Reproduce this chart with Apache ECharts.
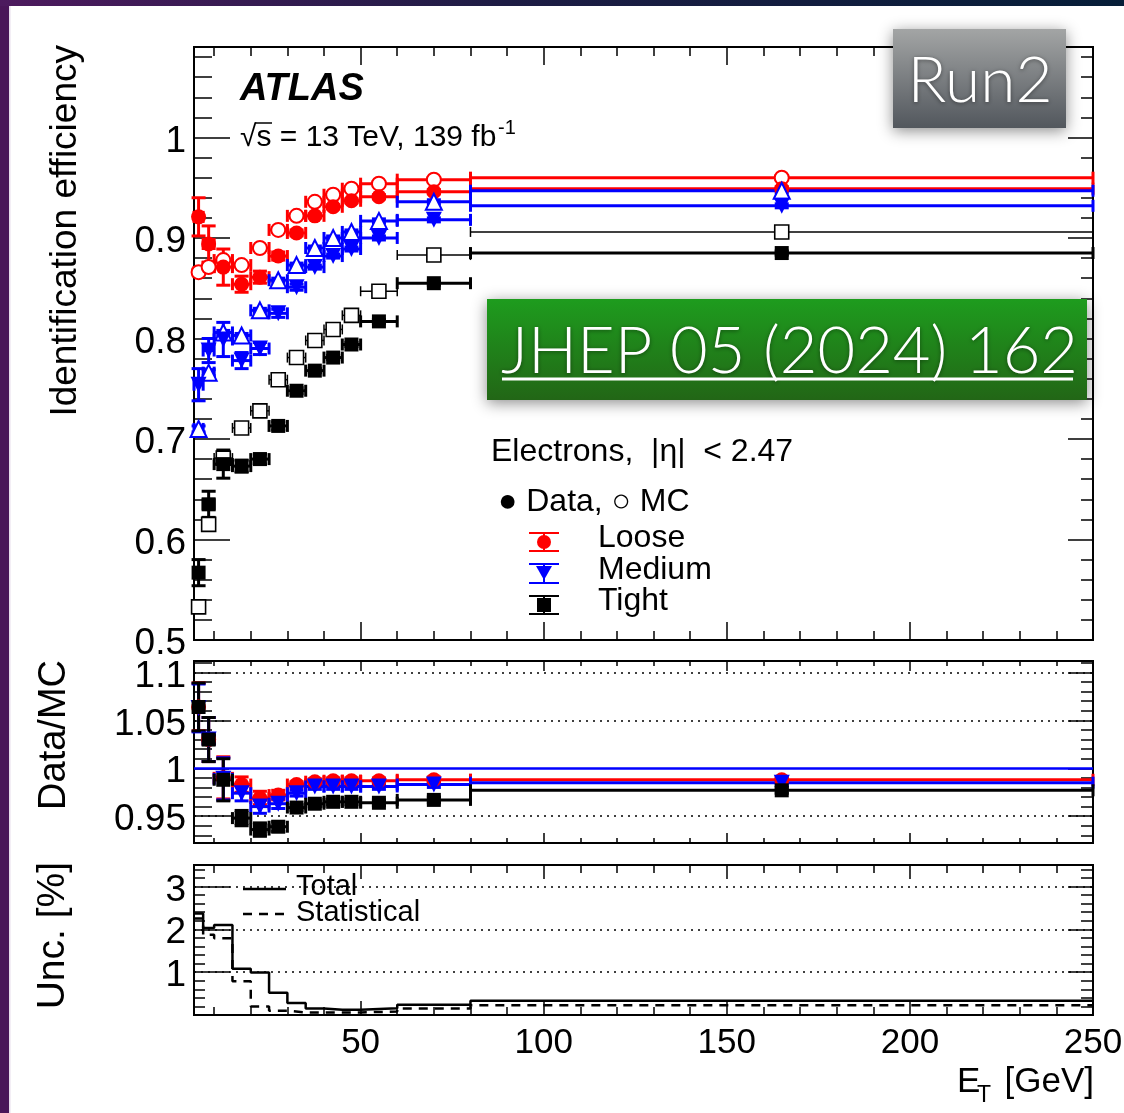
<!DOCTYPE html>
<html>
<head>
<meta charset="utf-8">
<script src="https://cdn.jsdelivr.net/npm/echarts@6/dist/echarts.min.js"></script>
<style>
  html, body { margin: 0; padding: 0; background: #fff; }
  #chart { width: 1124px; height: 1113px; }
</style>
</head>
<body>
<div id="chart"></div>
<script>
// E_T binning [GeV]
const binEdges = [4.5, 7, 10, 15, 20, 25, 30, 35, 40, 45, 50, 60, 80, 250];

// Identification efficiencies (data = filled, MC = open)
const looseData     = [0.921, 0.894, 0.871, 0.854, 0.861, 0.882, 0.905, 0.922, 0.931, 0.937, 0.941, 0.946, 0.949];
const looseDataErr  = [0.019, 0.018, 0.018, 0.008, 0.006, 0.004, 0.003, 0.002, 0.002, 0.002, 0.002, 0.002, 0.002];
const looseMC       = [0.866, 0.871, 0.878, 0.873, 0.890, 0.908, 0.922, 0.936, 0.943, 0.949, 0.954, 0.958, 0.960];
const mediumData    = [0.754, 0.788, 0.799, 0.778, 0.790, 0.825, 0.851, 0.871, 0.882, 0.889, 0.900, 0.918, 0.932];
const mediumDataErr = [0.016, 0.012, 0.017, 0.008, 0.006, 0.004, 0.003, 0.002, 0.002, 0.002, 0.002, 0.002, 0.002];
const mediumMC      = [0.710, 0.766, 0.806, 0.803, 0.828, 0.858, 0.873, 0.890, 0.900, 0.906, 0.917, 0.936, 0.947];
const tightData     = [0.567, 0.635, 0.675, 0.673, 0.680, 0.713, 0.748, 0.768, 0.781, 0.794, 0.817, 0.855, 0.885];
const tightDataErr  = [0.013, 0.013, 0.014, 0.006, 0.005, 0.004, 0.003, 0.002, 0.002, 0.002, 0.002, 0.002, 0.002];
const tightMC       = [0.533, 0.615, 0.681, 0.711, 0.728, 0.759, 0.781, 0.798, 0.809, 0.823, 0.847, 0.883, 0.906];
const mcErr         = [0.003, 0.003, 0.002, 0.002, 0.002, 0.002, 0.002, 0.002, 0.002, 0.002, 0.002, 0.002, 0.002];

// Data/MC scale factors
const looseRatio  = [1.064, 1.030, 0.990, 0.983, 0.969, 0.972, 0.983, 0.986, 0.987, 0.987, 0.987, 0.988, 0.988];
const mediumRatio = [1.063, 1.030, 0.989, 0.974, 0.960, 0.963, 0.974, 0.981, 0.981, 0.981, 0.981, 0.983, 0.985];
const tightRatio  = [1.064, 1.030, 0.988, 0.948, 0.936, 0.939, 0.959, 0.963, 0.965, 0.965, 0.964, 0.967, 0.977];
const ratioErr    = [0.025, 0.023, 0.022, 0.008, 0.007, 0.005, 0.003, 0.003, 0.003, 0.003, 0.003, 0.003, 0.003];

// Relative uncertainty [%]
const uncTotal = [2.37, 2.03, 2.10, 1.08, 0.99, 0.52, 0.28, 0.15, 0.12, 0.12, 0.16, 0.24, 0.33];
const uncStat  = [2.25, 1.87, 1.79, 0.79, 0.20, 0.10, 0.06, 0.06, 0.06, 0.06, 0.08, 0.15, 0.23];

// Tick labels
const xTickLabels     = [50, 100, 150, 200, 250];
const effTickLabels   = [0.5, 0.6, 0.7, 0.8, 0.9, 1];
const ratioTickLabels = [0.95, 1, 1.05, 1.1];
const uncTickLabels   = [1, 2, 3];

const X_MIN = 4.5, X_MAX = 250;
const FONT = '"Liberation Sans", Arial, Helvetica, sans-serif';
const LIGHT = 'Lato, Roboto, ' + FONT;
const RED = '#ff0000', BLUE = '#0000ff', BLACK = '#000000';

const centers = binEdges.slice(0, -1).map((e, i) => (e + binEdges[i + 1]) / 2);

function steps(a, b, step) {
  const out = [];
  for (let k = 0; a + k * step <= b + 1e-9; k++) out.push(+(a + k * step).toFixed(4));
  return out;
}
const fmt = v => String(Number((+v).toFixed(2)));

const xAxes = [], yAxes = [];
function addX(grid, position, ticks, len, labels) {
  xAxes.push({
    type: 'value', gridIndex: grid, position: position, min: X_MIN, max: X_MAX,
    axisLine: { show: true, onZero: false, lineStyle: { color: BLACK, width: 2 } },
    axisTick: { show: true, inside: true, length: len, customValues: ticks, lineStyle: { color: BLACK, width: 1.5 } },
    axisLabel: labels ? { show: true, customValues: labels, formatter: fmt, color: BLACK,
      fontFamily: FONT, fontSize: 35, margin: 11 } : { show: false },
    splitLine: { show: false }
  });
  return xAxes.length - 1;
}
function addY(grid, position, min, max, ticks, len, labels) {
  yAxes.push({
    type: 'value', gridIndex: grid, position: position, min: min, max: max,
    axisLine: { show: true, onZero: false, lineStyle: { color: BLACK, width: 2 } },
    axisTick: { show: true, inside: true, length: len, customValues: ticks, lineStyle: { color: BLACK, width: 1.5 } },
    axisLabel: labels ? { show: true, customValues: labels, formatter: fmt, color: BLACK,
      fontFamily: FONT, fontSize: 37, margin: 8, verticalAlign: 'top', lineHeight: 8 } : { show: false },
    splitLine: { show: false }
  });
  return yAxes.length - 1;
}

// Panel 0: efficiency
const EFF = { min: 0.5, max: 1.09 };
const ex = addX(0, 'bottom', xTickLabels, 18, null);
addX(0, 'bottom', steps(10, 250, 10), 9, null);
addX(0, 'top', xTickLabels, 18, null);
addX(0, 'top', steps(10, 250, 10), 9, null);
const ey = addY(0, 'left', EFF.min, EFF.max, effTickLabels, 36, effTickLabels);
addY(0, 'left', EFF.min, EFF.max, steps(0.5, 1.08, 0.02), 18, null);
addY(0, 'right', EFF.min, EFF.max, effTickLabels, 25, null);
addY(0, 'right', EFF.min, EFF.max, steps(0.5, 1.08, 0.02), 12, null);

// Panel 1: Data/MC
const RAT = { min: 0.922, max: 1.112 };
const rx = addX(1, 'bottom', xTickLabels, 10, null);
addX(1, 'bottom', steps(10, 250, 10), 5, null);
addX(1, 'top', xTickLabels, 10, null);
addX(1, 'top', steps(10, 250, 10), 5, null);
const ry = addY(1, 'left', RAT.min, RAT.max, ratioTickLabels, 35, ratioTickLabels);
addY(1, 'left', RAT.min, RAT.max, steps(0.93, 1.11, 0.01), 18, null);
addY(1, 'right', RAT.min, RAT.max, ratioTickLabels, 25, null);
addY(1, 'right', RAT.min, RAT.max, steps(0.93, 1.11, 0.01), 12, null);

// Panel 2: uncertainty
const UNC = { min: 0, max: 3.5 };
const ux = addX(2, 'bottom', xTickLabels, 14, xTickLabels);
addX(2, 'bottom', steps(10, 250, 10), 8, null);
addX(2, 'top', xTickLabels, 14, null);
addX(2, 'top', steps(10, 250, 10), 8, null);
const uy = addY(2, 'left', UNC.min, UNC.max, [0, 1, 2, 3], 36, uncTickLabels);
addY(2, 'left', UNC.min, UNC.max, steps(0, 3.4, 0.2), 11, null);
addY(2, 'right', UNC.min, UNC.max, [0, 1, 2, 3], 25, null);
addY(2, 'right', UNC.min, UNC.max, steps(0, 3.4, 0.2), 12, null);

// Error bars: horizontal bin width + vertical uncertainty, with end caps
function errSeries(xi, yi, values, errs, color, lw) {
  return {
    type: 'custom', xAxisIndex: xi, yAxisIndex: yi, z: 2, silent: true,
    data: values.map((v, i) => [centers[i], binEdges[i], binEdges[i + 1], v, errs[i]]),
    encode: { x: [0, 1, 2], y: 3 },
    renderItem: function (params, api) {
      const xc = api.value(0), xl = api.value(1), xh = api.value(2), y = api.value(3), e = api.value(4);
      const pc = api.coord([xc, y]);
      const pl = api.coord([xl, y]);
      const ph = api.coord([xh, y]);
      const pt = api.coord([xc, y + e]);
      const pb = api.coord([xc, y - e]);
      const capH = lw > 2 ? 6 : 5, capW = 7;
      const st = { stroke: color, lineWidth: lw };
      const L = (x1, y1, x2, y2) => ({ type: 'line', shape: { x1, y1, x2, y2 }, style: st });
      return {
        type: 'group', children: [
          L(pl[0], pl[1], ph[0], ph[1]),
          L(pl[0], pl[1] - capH, pl[0], pl[1] + capH),
          L(ph[0], ph[1] - capH, ph[0], ph[1] + capH),
          L(pc[0], pt[1], pc[0], pb[1]),
          L(pc[0] - capW, pt[1], pc[0] + capW, pt[1]),
          L(pc[0] - capW, pb[1], pc[0] + capW, pb[1])
        ]
      };
    }
  };
}
function markerSeries(xi, yi, values, m) {
  return {
    type: 'scatter', xAxisIndex: xi, yAxisIndex: yi, z: 3, silent: true,
    symbol: m.symbol, symbolSize: m.size, symbolRotate: m.rotate || 0,
    itemStyle: { color: m.fill, borderColor: m.stroke || m.fill, borderWidth: m.bw || 0, opacity: 1 },
    data: values.map((v, i) => [centers[i], v])
  };
}
const MK = {
  looseData:  { symbol: 'circle', size: 15, fill: RED },
  looseMC:    { symbol: 'circle', size: 14, fill: '#fff', stroke: RED, bw: 2 },
  mediumData: { symbol: 'triangle', size: 16, fill: BLUE, rotate: 180 },
  mediumMC:   { symbol: 'triangle', size: 16, fill: '#fff', stroke: BLUE, bw: 2 },
  tightData:  { symbol: 'rect', size: 14, fill: BLACK },
  tightMC:    { symbol: 'rect', size: 14, fill: '#fff', stroke: BLACK, bw: 1.6 }
};

function stepData(values) {
  return values.map((v, i) => [binEdges[i], v]).concat([[binEdges[binEdges.length - 1], values[values.length - 1]]]);
}
function refLines(xi, yi, values, style) {
  return {
    type: 'line', xAxisIndex: xi, yAxisIndex: yi, data: [], z: 1, silent: true,
    markLine: { silent: true, symbol: 'none', label: { show: false }, animation: false,
      lineStyle: style, data: values.map(v => ({ yAxis: v })) }
  };
}
const DOT = { color: BLACK, width: 1.6, type: [2, 5] };

const series = [
  // efficiency panel
  errSeries(ex, ey, looseMC, mcErr, RED, 3),
  markerSeries(ex, ey, looseMC, MK.looseMC),
  errSeries(ex, ey, looseData, looseDataErr, RED, 3),
  markerSeries(ex, ey, looseData, MK.looseData),
  errSeries(ex, ey, mediumMC, mcErr, BLUE, 3),
  markerSeries(ex, ey, mediumMC, MK.mediumMC),
  errSeries(ex, ey, mediumData, mediumDataErr, BLUE, 3),
  markerSeries(ex, ey, mediumData, MK.mediumData),
  errSeries(ex, ey, tightMC, mcErr, BLACK, 1.5),
  markerSeries(ex, ey, tightMC, MK.tightMC),
  errSeries(ex, ey, tightData, tightDataErr, BLACK, 3),
  markerSeries(ex, ey, tightData, MK.tightData),
  // ratio panel
  refLines(rx, ry, [0.95, 1.05, 1.1], DOT),
  refLines(rx, ry, [1], { color: BLUE, width: 2.5, type: 'solid' }),
  errSeries(rx, ry, looseRatio, ratioErr, RED, 3),
  markerSeries(rx, ry, looseRatio, MK.looseData),
  errSeries(rx, ry, mediumRatio, ratioErr, BLUE, 3),
  markerSeries(rx, ry, mediumRatio, MK.mediumData),
  errSeries(rx, ry, tightRatio, ratioErr, BLACK, 3),
  markerSeries(rx, ry, tightRatio, MK.tightData),
  // uncertainty panel
  refLines(ux, uy, [1, 2, 3], DOT),
  { type: 'line', xAxisIndex: ux, yAxisIndex: uy, step: 'end', symbol: 'none', silent: true, z: 3,
    lineStyle: { color: BLACK, width: 2.5 }, data: stepData(uncTotal) },
  { type: 'line', xAxisIndex: ux, yAxisIndex: uy, step: 'end', symbol: 'none', silent: true, z: 3,
    lineStyle: { color: BLACK, width: 2.5, type: [9, 7] }, data: stepData(uncStat) }
];

function txt(x, y, text, font, opts) {
  opts = opts || {};
  return {
    type: 'text', x: x, y: y, rotation: opts.rotation || 0, z: opts.z || 50,
    style: {
      text: text, font: font, fill: opts.fill || BLACK,
      align: opts.align || 'left', textAlign: opts.align || 'left',
      verticalAlign: 'middle', textVerticalAlign: 'middle',
      textShadowBlur: opts.shadow ? 4 : 0, textShadowColor: 'rgba(0,0,0,0.45)', textShadowOffsetY: opts.shadow ? 1 : 0
    }
  };
}
function seg(x1, y1, x2, y2, color, w, dash) {
  return { type: 'line', z: 50, shape: { x1, y1, x2, y2 }, style: { stroke: color, lineWidth: w, lineDash: dash || null } };
}
const vgrad = (c0, c1) => ({ type: 'linear', x: 0, y: 0, x2: 0, y2: 1, colorStops: [{ offset: 0, color: c0 }, { offset: 1, color: c1 }] });

const graphic = [
  // slide frame
  { type: 'rect', z: 200, shape: { x: 0, y: 0, width: 9, height: 1113 }, style: { fill: '#4a1659' } },
  { type: 'rect', z: 200, shape: { x: 9, y: 0, width: 1.5, height: 1113 }, style: { fill: '#e8ddec' } },
  { type: 'rect', z: 201, shape: { x: 0, y: 0, width: 1124, height: 6 },
    style: { fill: { type: 'linear', x: 0, y: 0, x2: 1, y2: 0, colorStops: [
      { offset: 0, color: '#4d1a5e' }, { offset: 0.45, color: '#1d1c44' }, { offset: 1, color: '#061e38' }] } } },

  // axis titles
  txt(66, 45, 'Identification efficiency', '37px ' + FONT, { rotation: Math.PI / 2, align: 'right' }),
  txt(55, 660, 'Data/MC', '38px ' + FONT, { rotation: Math.PI / 2, align: 'right' }),
  txt(53, 862, 'Unc. [%]', '39px ' + FONT, { rotation: Math.PI / 2, align: 'right' }),
  txt(957, 1082, 'E', '35px ' + FONT),
  txt(977, 1096, 'T', '23px ' + FONT),
  txt(1094, 1082, '[GeV]', '35px ' + FONT, { align: 'right' }),

  // labels
  txt(240, 90, 'ATLAS', 'italic bold 38px ' + FONT),
  txt(240, 138, '\u221As = 13 TeV, 139 fb', '30px ' + FONT),
  seg(255, 123, 272, 123, BLACK, 1.5),
  txt(498, 128, '-1', '20px ' + FONT),
  txt(491, 452, 'Electrons,  |\u03b7|  < 2.47', '32px ' + FONT),
  txt(498, 502, '\u25CF Data, \u25CB MC', '32px ' + FONT),
  txt(598, 538, 'Loose', '32px ' + FONT),
  txt(598, 570, 'Medium', '32px ' + FONT),
  txt(598, 601, 'Tight', '32px ' + FONT),

  // legend symbols
  seg(529, 533, 559, 533, RED, 2), seg(529, 551, 559, 551, RED, 2), seg(544, 533, 544, 551, RED, 2),
  { type: 'circle', z: 51, shape: { cx: 544, cy: 542, r: 7 }, style: { fill: RED } },
  seg(529, 564, 559, 564, BLUE, 2), seg(529, 583, 559, 583, BLUE, 2), seg(544, 564, 544, 583, BLUE, 2),
  { type: 'polygon', z: 51, shape: { points: [[536, 566], [552, 566], [544, 580]] }, style: { fill: BLUE } },
  seg(529, 596, 559, 596, BLACK, 2), seg(529, 614, 559, 614, BLACK, 2), seg(544, 596, 544, 614, BLACK, 2),
  { type: 'rect', z: 51, shape: { x: 537, y: 598, width: 14, height: 14 }, style: { fill: BLACK } },

  // uncertainty legend
  seg(243, 889, 286, 889, BLACK, 2.5),
  txt(296, 887, 'Total', '29px ' + FONT),
  seg(243, 914, 286, 914, BLACK, 2.5, [9, 7]),
  txt(296, 913, 'Statistical', '29px ' + FONT),

  // publication badge
  { type: 'rect', z: 100, shape: { x: 487, y: 299, width: 600, height: 101 },
    style: { fill: vgrad('#1e9c1e', '#226616'), shadowBlur: 14, shadowColor: 'rgba(0,0,0,0.45)', shadowOffsetY: 3 } },
  txt(501, 352, 'JHEP 05 (2024) 162', '300 65px ' + LIGHT, { fill: '#ffffff', z: 101, shadow: true }),
  { type: 'line', z: 101, shape: { x1: 502, y1: 379, x2: 1073, y2: 379 }, style: { stroke: '#ffffff', lineWidth: 3 } },

  // run badge
  { type: 'rect', z: 100, shape: { x: 893, y: 29, width: 173, height: 99 },
    style: { fill: vgrad('#a3a5a5', '#52575d'), shadowBlur: 14, shadowColor: 'rgba(0,0,0,0.45)', shadowOffsetY: 3 } },
  txt(980, 81, 'Run2', '300 64px ' + LIGHT, { fill: '#ffffff', z: 101, align: 'center', shadow: true })
];

const chart = echarts.init(document.getElementById('chart'), null, { renderer: 'canvas' });
chart.setOption({
  animation: false,
  backgroundColor: '#ffffff',
  grid: [
    { left: 194, right: 31, top: 47, height: 593, containLabel: false, outerBoundsMode: 'none' },
    { left: 194, right: 31, top: 661, height: 182, containLabel: false, outerBoundsMode: 'none' },
    { left: 194, right: 31, top: 865, height: 150, containLabel: false, outerBoundsMode: 'none' }
  ],
  xAxis: xAxes,
  yAxis: yAxes,
  series: series,
  graphic: graphic
});
</script>
</body>
</html>
